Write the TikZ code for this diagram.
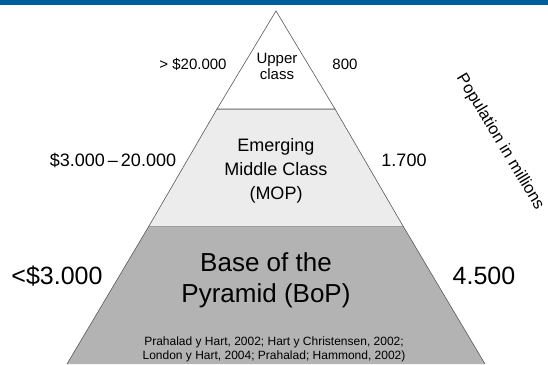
\documentclass[tikz,border=0pt]{standalone}
\usepackage{fontspec}
\setmainfont{Liberation Sans}
\usetikzlibrary{positioning}
\definecolor{bandblue}{RGB}{0,94,158}
\definecolor{midgray}{RGB}{236,236,236}
\definecolor{basegray}{RGB}{179,179,179}

\begin{document}
\begin{tikzpicture}[x=1pt, y=-1pt]
  % basic styles.
  \tikzstyle layer=[draw=black!65, line width=0.6pt]
  \tikzstyle lbl=[inner sep=0pt, align=center, text=black]
  \useasboundingbox (0,0) rectangle (548,364);
  % The blue band along the top
  \fill[bandblue] (0,0) rectangle (548,5);

  % The three layers of the pyramid
  \fill[basegray] (67,364) -- (149,226) -- (403,226) -- (485,364) -- cycle;
  \draw[layer] (67,364) -- (149,226) -- (403,226) -- (485,364);
  \filldraw[layer, fill=midgray] (149,226) -- (217,109) -- (335,109) -- (403,226);
  \filldraw[layer, fill=white] (217,109) -- (276,11) -- (335,109) -- cycle;

  % Layer names
  \node[lbl, font=\fontsize{15}{16}\selectfont] (upper) at (277,66) {Upper\\class};
  \node[lbl, font=\fontsize{18}{24}\selectfont] (mop) at (276,171) {Emerging\\Middle Class\\(MOP)};
  \node[lbl, font=\fontsize{26}{31}\selectfont] (bop) at (266,280) {Base of the\\Pyramid (BoP)};
  \node[lbl, font=\fontsize{12}{14}\selectfont] (refs) at (274,349)
    {Prahalad y Hart, 2002; Hart y Christensen, 2002;\\London y Hart, 2004; Prahalad; Hammond, 2002)};

  % Income on the left, population on the right
  \node[lbl, font=\fontsize{15}{18}\selectfont] (incup) at (193,64) {> \$20.000};
  \node[lbl, font=\fontsize{15}{18}\selectfont] (popup) at (345,64) {800};
  \node[lbl, font=\fontsize{18}{21}\selectfont] (incmop) at (113,160) {\$3.000\,–\,20.000};
  \node[lbl, font=\fontsize{18}{21}\selectfont] (popmop) at (404,160) {1.700};
  \node[lbl, font=\fontsize{25}{28}\selectfont] (incbop) at (57,276) {<\$3.000};
  \node[lbl, font=\fontsize{25}{28}\selectfont] (popbop) at (484,276) {4.500};

  % Axis caption
  \node[lbl, rotate=-59, font=\fontsize{16.5}{20}\selectfont] (caption) at (500,142) {Population in millions};
\end{tikzpicture}
\end{document}
